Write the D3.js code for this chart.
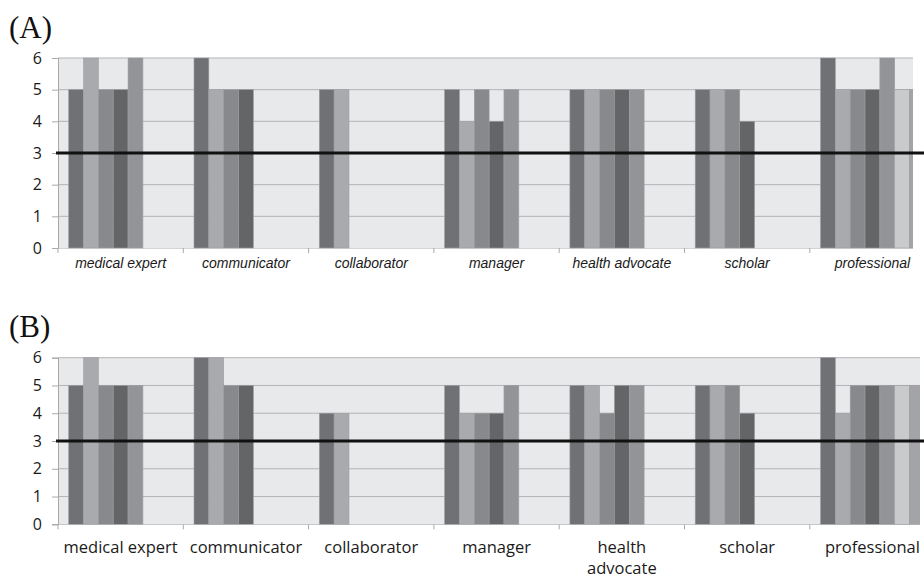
<!DOCTYPE html>
<html lang="en">
<head>
  <meta charset="UTF-8">
  <title>Competency ratings (A) and (B)</title>
  <script src="https://d3js.org/d3.v7.min.js"></script>
  <style>
    html, body { margin: 0; padding: 0; background: #fff; }
    svg { display: block; }
  </style>
</head>
<body>
  <div id="chart"></div>
  <script>
    var categories = ["medical expert", "communicator", "collaborator", "manager",
                      "health advocate", "scholar", "professional"];
    var yTicks = [0, 1, 2, 3, 4, 5, 6];
    var threshold = 3;

    // one array per series (7 bars per category), null = no bar
    var seriesA1 = [5, 6, 5, 5, 5, 5, 6];
    var seriesA2 = [6, 5, 5, 4, 5, 5, 5];
    var seriesA3 = [5, 5, null, 5, 5, 5, 5];
    var seriesA4 = [5, 5, null, 4, 5, 4, 5];
    var seriesA5 = [6, null, null, 5, 5, null, 6];
    var seriesA6 = [null, null, null, null, null, null, 5];
    var seriesA7 = [null, null, null, null, null, null, 5];

    var seriesB1 = [5, 6, 4, 5, 5, 5, 6];
    var seriesB2 = [6, 6, 4, 4, 5, 5, 4];
    var seriesB3 = [5, 5, null, 4, 4, 5, 5];
    var seriesB4 = [5, 5, null, 4, 5, 4, 5];
    var seriesB5 = [5, null, null, 5, 5, null, 5];
    var seriesB6 = [null, null, null, null, null, null, 5];
    var seriesB7 = [null, null, null, null, null, null, 5];

    var colors = ["#707174", "#a9aaad", "#88898c", "#646567", "#939497", "#c9cacc", "#a3a4a7"];

    var width = 924, height = 579;
    var svg = d3.select("#chart").append("svg")
      .attr("width", width)
      .attr("height", height);

    function drawPanel(opt) {
      var series = opt.series;
      var x0 = d3.scaleBand().domain(categories).range([58, 58 + 7 * 125.3]).padding(0);
      var x1 = d3.scaleBand().domain(d3.range(series.length))
        .range([10.7, x0.bandwidth() - 10.7]).padding(0);
      var y = d3.scaleLinear().domain([0, 6]).range([opt.bottom, opt.top]);

      var g = svg.append("g");
      var clipId = "clip-" + opt.name;
      svg.append("clipPath").attr("id", clipId)
        .append("rect")
        .attr("x", 0).attr("y", 0)
        .attr("width", opt.right).attr("height", height);

      g.append("text")
        .attr("x", 9)
        .attr("y", opt.labelY)
        .attr("font-family", "'Liberation Serif', 'Times New Roman', serif")
        .attr("font-size", "31px")
        .attr("fill", "#111")
        .text("(" + opt.name + ")");

      var plot = g.append("g").attr("clip-path", "url(#" + clipId + ")");

      plot.append("rect")
        .attr("x", x0.range()[0])
        .attr("y", y(6))
        .attr("width", x0.range()[1] - x0.range()[0])
        .attr("height", y(0) - y(6))
        .attr("fill", "#e8e9eb");

      plot.selectAll(".grid")
        .data(yTicks.slice(1))
        .enter().append("line")
        .attr("class", "grid")
        .attr("x1", x0.range()[0]).attr("x2", x0.range()[1])
        .attr("y1", function(d) { return y(d); })
        .attr("y2", function(d) { return y(d); })
        .attr("stroke", "#b3b4b6")
        .attr("stroke-width", 1);

      var groups = plot.selectAll(".cat")
        .data(categories)
        .enter().append("g")
        .attr("class", "cat")
        .attr("transform", function(d) { return "translate(" + x0(d) + ",0)"; });

      groups.selectAll("rect")
        .data(function(d, i) {
          return series.map(function(s, k) { return { k: k, v: s[i] }; })
            .filter(function(e) { return e.v != null; });
        })
        .enter().append("rect")
        .attr("x", function(d) { return x1(d.k); })
        .attr("width", x1.bandwidth())
        .attr("y", function(d) { return y(d.v); })
        .attr("height", function(d) { return y(0) - y(d.v); })
        .attr("fill", function(d) { return colors[d.k]; })
        .attr("stroke", "#9d9ea1")
        .attr("stroke-width", 0.6);

      // axes
      var yAxis = g.append("g")
        .attr("transform", "translate(58,0)")
        .call(d3.axisLeft(y).tickValues(yTicks).tickSize(6).tickPadding(10).tickFormat(d3.format("d")));
      yAxis.select(".domain").attr("stroke", "#a9a9a9");
      yAxis.selectAll(".tick line").attr("stroke", "#a9a9a9");
      yAxis.selectAll("text")
        .attr("font-family", "'Open Sans', 'DejaVu Sans', sans-serif")
        .attr("font-size", opt.tickSize)
        .attr("fill", "#1a1a1a");

      var xAxis = g.append("g")
        .attr("transform", "translate(0," + y(0) + ")")
        .attr("clip-path", "url(#" + clipId + ")");
      xAxis.append("line")
        .attr("x1", x0.range()[0]).attr("x2", x0.range()[1])
        .attr("stroke", "#a9a9a9");
      xAxis.selectAll(".xt")
        .data(categories)
        .enter().append("line")
        .attr("class", "xt")
        .attr("x1", function(d) { return x0(d); })
        .attr("x2", function(d) { return x0(d); })
        .attr("y1", 0).attr("y2", 5)
        .attr("stroke", "#a9a9a9");

      var labels = g.selectAll(".xl")
        .data(categories)
        .enter().append("text")
        .attr("class", "xl")
        .attr("text-anchor", "middle")
        .attr("font-family", opt.labelFont)
        .attr("font-style", opt.italic ? "italic" : "normal")
        .attr("font-size", opt.catSize)
        .attr("fill", "#1a1a1a");
      labels.each(function(d) {
        var t = d3.select(this);
        var lines = opt.wrap && d === "health advocate" ? d.split(" ") : [d];
        lines.forEach(function(line, i) {
          t.append("tspan")
            .attr("x", x0(d) + x0.bandwidth() / 2)
            .attr("y", y(0) + opt.catOffset + i * 21)
            .text(line);
        });
      });

      // threshold line
      g.append("line")
        .attr("x1", 56).attr("x2", width)
        .attr("y1", y(threshold)).attr("y2", y(threshold))
        .attr("stroke", "#111")
        .attr("stroke-width", 3);
    }

    drawPanel({
      name: "A",
      series: [seriesA1, seriesA2, seriesA3, seriesA4, seriesA5, seriesA6, seriesA7],
      top: 58, bottom: 248, right: 913, labelY: 38,
      italic: true, wrap: false,
      labelFont: "'Liberation Sans', Arial, sans-serif",
      catSize: "14px", catOffset: 20, tickSize: "16px"
    });

    drawPanel({
      name: "B",
      series: [seriesB1, seriesB2, seriesB3, seriesB4, seriesB5, seriesB6, seriesB7],
      top: 357.7, bottom: 524.3, right: 920, labelY: 337,
      italic: false, wrap: true,
      labelFont: "'Open Sans', 'DejaVu Sans', sans-serif",
      catSize: "16.5px", catOffset: 29, tickSize: "16px"
    });
  </script>
</body>
</html>
